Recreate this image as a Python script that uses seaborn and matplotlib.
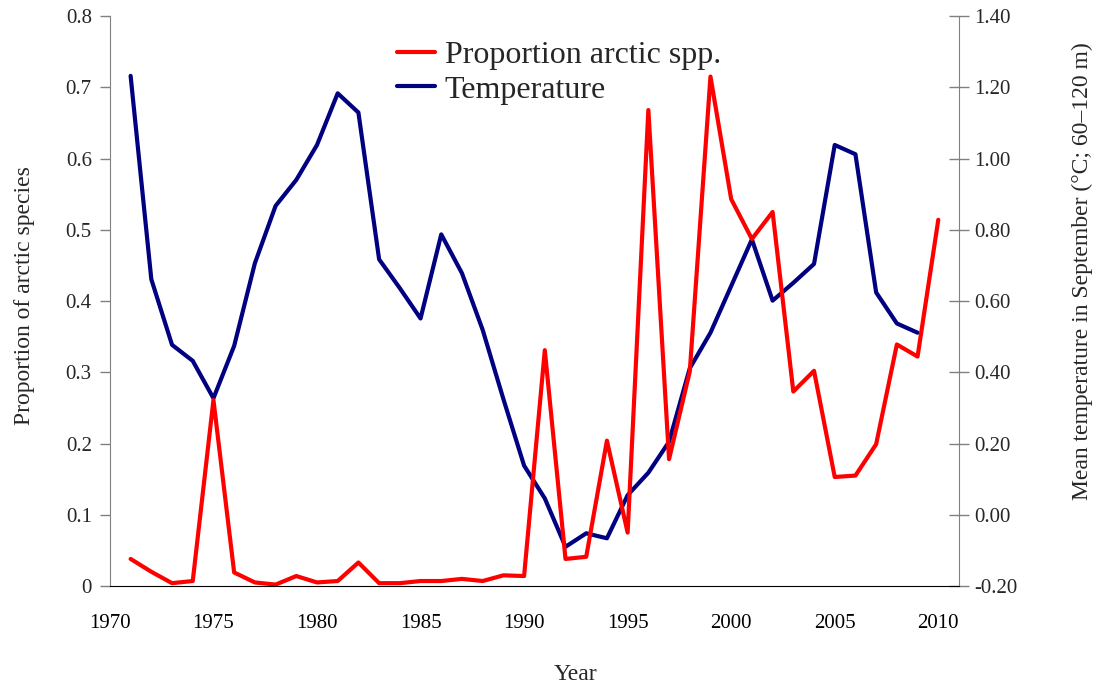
import numpy as np
import pandas as pd
import seaborn as sns
import matplotlib.pyplot as plt
from matplotlib.lines import Line2D

# Data
years_prop = list(range(1971, 2011))
proportion = [0.038, 0.020, 0.004, 0.007, 0.261, 0.019, 0.005, 0.002, 0.014, 0.005,
              0.007, 0.033, 0.004, 0.004, 0.007, 0.007, 0.010, 0.007, 0.015, 0.014,
              0.331, 0.038, 0.041, 0.204, 0.075, 0.668, 0.178, 0.301, 0.715, 0.543,
              0.487, 0.525, 0.273, 0.302, 0.153, 0.155, 0.199, 0.339, 0.322, 0.514]

years_temp = list(range(1971, 2010))
temperature = [1.232, 0.661, 0.477, 0.432, 0.327, 0.474, 0.706, 0.867, 0.940, 1.038,
               1.183, 1.129, 0.717, 0.636, 0.551, 0.787, 0.678, 0.519, 0.325, 0.138,
               0.046, -0.090, -0.052, -0.066, 0.055, 0.118, 0.205, 0.411, 0.511, 0.642,
               0.773, 0.601, 0.651, 0.704, 1.038, 1.012, 0.624, 0.537, 0.511]

left_ticks = [0, 0.1, 0.2, 0.3, 0.4, 0.5, 0.6, 0.7, 0.8]
left_labels = ['0', '0.1', '0.2', '0.3', '0.4', '0.5', '0.6', '0.7', '0.8']
right_ticks = [-0.2, 0.0, 0.2, 0.4, 0.6, 0.8, 1.0, 1.2, 1.4]
right_labels = ['-0.20', '0.00', '0.20', '0.40', '0.60', '0.80', '1.00', '1.20', '1.40']
x_ticks = [1970, 1975, 1980, 1985, 1990, 1995, 2000, 2005, 2010]

prop_df = pd.DataFrame({'Year': years_prop, 'Proportion': proportion})
temp_df = pd.DataFrame({'Year': years_temp, 'Temperature': temperature})

sns.set_style('white')
plt.rcParams['font.family'] = ['Liberation Serif', 'DejaVu Serif']

fig, ax = plt.subplots(figsize=(10.99, 6.87), dpi=100)
fig.subplots_adjust(left=0.100, right=0.8726, top=0.9767, bottom=0.147)
ax2 = ax.twinx()

sns.lineplot(data=prop_df, x='Year', y='Proportion', ax=ax, color='#FF0000', linewidth=3)
sns.lineplot(data=temp_df, x='Year', y='Temperature', ax=ax2, color='#000080', linewidth=3)
ax.set_zorder(ax2.get_zorder() + 1)
ax.patch.set_visible(False)

ax.set_xlim(1970, 2011)
ax.set_ylim(0, 0.8)
ax2.set_ylim(-0.2, 1.4)

ax.set_xticks(x_ticks)
ax.set_xticklabels([str(t) for t in x_ticks])
ax.set_yticks(left_ticks)
ax.set_yticklabels(left_labels)
ax2.set_yticks(right_ticks)
ax2.set_yticklabels(right_labels)

ax.tick_params(axis='x', direction='out', length=7, width=1, labelsize=15, pad=13, colors='black')
ax.tick_params(axis='y', direction='out', length=7, width=1, labelsize=15, pad=6, color='#808080')
ax2.tick_params(axis='y', direction='inout', length=14, width=1, labelsize=15, pad=4, color='#808080')

for a in (ax, ax2):
    a.spines['top'].set_visible(False)
ax.spines['right'].set_visible(False)
ax.spines['left'].set_color('#808080')
ax.spines['bottom'].set_color('black')
ax2.spines['left'].set_visible(False)
ax2.spines['bottom'].set_visible(False)
ax2.spines['right'].set_color('#808080')

ax.set_xlabel('Year', fontsize=17)
ax.xaxis.set_label_coords(0.548, -0.136)
ax.set_ylabel('Proportion of arctic species', fontsize=17)
ax.yaxis.set_label_coords(-0.088, 0.51)
ax2.set_ylabel('Mean temperature in September (°C; 60–120 m)', fontsize=17)
ax2.yaxis.set_label_coords(1.133, 0.552)

handles = [Line2D([], [], color='#FF0000', linewidth=3),
           Line2D([], [], color='#000080', linewidth=3)]
ax.legend(handles, ['Proportion arctic spp.', 'Temperature'], loc='upper left',
          bbox_to_anchor=(397 / 1099, 1 - 41 / 687), bbox_transform=fig.transFigure,
          frameon=False, fontsize=23, borderpad=0, borderaxespad=0,
          handlelength=1.2, handletextpad=0.3, labelspacing=0.15)

plt.savefig('out.png', dpi=100)
